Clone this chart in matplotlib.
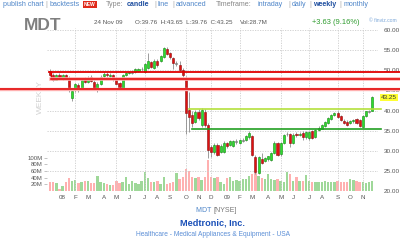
import numpy as np
import pandas as pd
import matplotlib
matplotlib.use('Agg')
import matplotlib.pyplot as plt
import matplotlib.transforms as mtransforms

plt.rcParams['font.family'] = ['Liberation Sans', 'DejaVu Sans']

ticker = 'MDT'
company = 'Medtronic, Inc.'
sector = 'Healthcare - Medical Appliances & Equipment - USA'
quote_date = '24 Nov 09'
week_start = '2007-12-10'

# weekly OHLC
opens = [49.7, 48.9, 47.7, 48.7, 48.2, 48.7, 48.1, 43.2, 45.0, 46.3,
         45.2, 47.8, 47.2, 48.3, 47.1, 45.5, 46.6, 48.5, 49.1, 48.6,
         48.8, 48.0, 46.8, 45.7, 48.8, 49.3, 49.5, 49.5, 49.7, 50.2,
         49.6, 50.5, 52.0, 50.5, 52.4, 52.3, 53.2, 55.4, 54.2, 53.1,
         51.7, 51.4, 50.0, 48.1, 40.2, 38.9, 37.2, 39.6, 36.4, 39.7,
         36.4, 31.0, 29.7, 31.5, 29.7, 29.8, 31.9, 31.4, 31.2, 32.3,
         32.0, 32.5, 32.6, 33.4, 33.7, 28.5, 24.4, 28.0, 27.5, 28.0,
         27.8, 29.5, 31.9, 29.1, 32.0, 34.1, 34.2, 32.0, 34.1, 33.9,
         34.4, 33.3, 33.1, 34.8, 33.4, 35.2, 35.5, 36.2, 37.0, 38.0,
         39.0, 39.4, 38.6, 37.5, 37.2, 36.9, 37.3, 37.9, 37.7, 36.0,
         38.6, 39.7, 39.76]
highs = [50.2, 49.3, 49.0, 49.2, 49.0, 49.1, 48.6, 45.0, 46.9, 46.8,
         47.9, 48.3, 48.6, 48.7, 47.5, 47.0, 48.8, 49.5, 49.6, 49.2,
         49.0, 48.4, 47.2, 49.0, 49.6, 49.8, 50.0, 50.5, 50.6, 50.7,
         51.8, 54.2, 52.4, 52.8, 52.9, 53.9, 55.8, 55.7, 54.6, 53.4,
         52.3, 52.4, 50.5, 48.6, 44.6, 40.0, 40.1, 40.4, 40.6, 40.3,
         36.8, 31.5, 31.9, 31.9, 31.6, 32.3, 32.2, 32.6, 32.7, 32.8,
         32.9, 33.1, 33.9, 34.8, 34.0, 28.9, 28.8, 29.5, 28.5, 28.8,
         29.8, 32.3, 32.2, 32.1, 34.2, 34.6, 34.5, 34.3, 34.6, 34.6,
         34.8, 35.0, 34.9, 35.1, 35.4, 36.1, 36.7, 37.5, 38.4, 39.2,
         39.6, 39.8, 38.9, 37.8, 37.6, 37.7, 37.9, 38.2, 38.0, 38.8,
         40.0, 40.2, 43.65]
lows = [48.6, 47.4, 47.5, 48.0, 47.6, 47.8, 44.6, 42.4, 44.7, 44.6,
        45.0, 46.8, 46.9, 47.0, 45.3, 44.5, 46.3, 48.0, 48.3, 48.2,
        47.4, 46.5, 45.6, 45.3, 48.5, 49.0, 49.1, 49.2, 49.5, 49.9,
        49.4, 50.3, 50.6, 50.3, 50.8, 52.0, 53.0, 53.7, 52.9, 50.4,
        51.0, 49.9, 48.4, 34.2, 34.6, 36.0, 36.8, 37.6, 35.9, 35.8,
        28.1, 28.5, 29.3, 28.8, 29.4, 29.5, 30.7, 31.2, 30.9, 31.8,
        31.7, 32.1, 32.3, 33.0, 28.6, 24.3, 24.1, 26.8, 27.2, 27.5,
        27.5, 29.3, 28.8, 28.8, 31.8, 33.6, 31.0, 31.8, 33.5, 33.6,
        32.6, 33.0, 32.6, 32.9, 33.2, 34.9, 35.3, 35.9, 36.7, 37.7,
        38.6, 38.2, 37.5, 36.7, 36.2, 36.6, 37.0, 36.7, 35.8, 35.8,
        38.4, 39.3, 39.76]
closes = [48.9, 47.7, 48.7, 48.4, 48.7, 48.1, 45.2, 44.8, 46.6, 45.1,
          47.6, 47.1, 48.1, 47.3, 45.7, 46.6, 48.4, 49.1, 48.8, 48.8,
          47.8, 46.7, 45.9, 48.8, 49.3, 49.5, 49.4, 50.3, 50.4, 50.3,
          51.5, 52.2, 50.9, 52.4, 51.2, 53.6, 55.5, 54.1, 53.2, 51.9,
          51.6, 50.1, 48.8, 39.4, 38.4, 36.9, 39.7, 38.1, 40.1, 36.4,
          30.2, 29.7, 31.4, 29.0, 31.2, 32.0, 31.2, 32.3, 32.4, 32.2,
          32.6, 32.4, 33.6, 34.3, 29.0, 24.6, 28.5, 27.0, 28.3, 28.6,
          29.5, 31.9, 29.0, 31.9, 34.0, 34.2, 32.0, 34.0, 33.8, 34.1,
          33.5, 34.7, 34.6, 33.1, 35.2, 35.7, 36.4, 37.2, 38.2, 38.9,
          39.3, 38.4, 37.7, 36.9, 36.4, 37.4, 37.6, 36.9, 36.1, 38.6,
          39.8, 39.62, 43.25]
# weekly volume, millions of shares
volumes = [28, 28, 23, 6, 15, 26, 38, 31, 33, 23,
           27, 30, 31, 25, 25, 45, 27, 24, 21, 18,
           18, 30, 23, 27, 43, 20, 31, 25, 21, 31,
           58, 39, 27, 27, 31, 21, 43, 21, 25, 28,
           55, 35, 43, 66, 61, 43, 40, 43, 33, 41,
           93, 43, 38, 43, 26, 21, 38, 43, 31, 33,
           31, 35, 36, 45, 51, 53, 45, 38, 36, 51,
           35, 33, 35, 30, 28, 57, 50, 31, 41, 31,
           31, 48, 31, 26, 28, 26, 26, 31, 28, 27,
           26, 31, 26, 26, 28, 36, 33, 31, 26, 26,
           25, 26, 28.7]

red_levels = [49.5, 47.8, 45.3]
green_levels = [40.3, 35.3]
grid_months = [(2008, 2), (2008, 5), (2008, 7), (2008, 10), (2008, 12),
               (2009, 2), (2009, 5), (2009, 7), (2009, 9), (2009, 11)]

W, H = 400, 240
fig = plt.figure(figsize=(4, 2.4), dpi=100)
fig.patch.set_facecolor('white')

def fx(x):
    return x / W

def fy(y):
    return 1 - y / H

rect = [fx(47), fy(191), (378 - 47) / W, (191 - 28) / H]
n = len(closes)
idx = np.arange(n)
dates = pd.date_range(week_start, periods=n, freq='7D')
o = np.array(opens); c = np.array(closes)
up = c > o + 0.15
down = c < o - 0.15

# volume axes (behind)
vax = fig.add_axes(rect)
vcol = np.where(down, '#ffb0b0', '#9fd899')
vax.bar(idx, volumes, width=0.75, color=vcol, linewidth=0)
vax.set_xlim(-0.95, 103.8)
vax.set_ylim(0, 489)
vax.set_yticks([20, 40, 60, 80, 100])
vax.set_yticklabels(['20M', '40M', '60M', '80M', '100M'])
vax.tick_params(axis='y', length=2, width=0.5, color='#aaaaaa', labelsize=4.3,
                labelcolor='#555555', pad=1)
vax.set_xticks([])
for s in vax.spines.values():
    s.set_visible(False)

# price axes
ax = fig.add_axes(rect)
ax.patch.set_alpha(0)
ax.set_xlim(-0.95, 103.8)
ax.set_ylim(20, 60.5)
for s in ax.spines.values():
    s.set_visible(False)

for lvl in range(20, 61, 5):
    ax.axhline(lvl, color='#cccccc', lw=0.6, ls=(0, (1.5, 1.5)), zorder=0)
for yr, mo in grid_months:
    pos = np.where((dates.year == yr) & (dates.month == mo))[0][0]
    ax.axvline(pos, color='#cccccc', lw=0.6, ls=(0, (1.5, 1.5)), zorder=0)

# candles
ax.vlines(idx, lows, highs, color='#8c8c8c', lw=0.6, zorder=2)
body_lo = np.minimum(o, c)
body_h = np.maximum(np.abs(c - o), 0.15)
face = np.where(up, '#2ddc2d', np.where(down, '#e01010', '#999999'))
edge = np.where(up, '#118a11', np.where(down, '#8a0c0c', '#777777'))
ax.bar(idx, body_h, bottom=body_lo, width=0.65, color=face, edgecolor=edge,
       linewidth=0.4, zorder=3)

# drawn trend lines
trans = mtransforms.blended_transform_factory(ax.transAxes, ax.transData)
def axfrac(xpx):
    return (xpx - 47) / (378 - 47)

ax.plot([axfrac(49), axfrac(400)], [red_levels[0]] * 2, color='#e00000', lw=1.3,
        transform=trans, clip_on=False, zorder=4)
ax.plot([axfrac(51), axfrac(51)], [red_levels[0], red_levels[1]], color='#e00000',
        lw=1.0, transform=trans, clip_on=False, zorder=4)
ax.plot([axfrac(51), axfrac(400)], [red_levels[1]] * 2, color='#ffb0b0', lw=2.6,
        transform=trans, clip_on=False, zorder=4)
ax.plot([axfrac(51), axfrac(400)], [red_levels[1]] * 2, color='#e00000', lw=1.1,
        transform=trans, clip_on=False, zorder=4)
ax.plot([axfrac(0), axfrac(400)], [red_levels[2]] * 2, color='#ffb0b0', lw=2.4,
        transform=trans, clip_on=False, zorder=4)
ax.plot([axfrac(0), axfrac(400)], [red_levels[2]] * 2, color='#e00000', lw=1.1,
        transform=trans, clip_on=False, zorder=4)
ax.plot([axfrac(189), axfrac(381)], [green_levels[0]] * 2, color='#b4e03c', lw=1.2,
        transform=trans, clip_on=False, zorder=4)
ax.plot([axfrac(192), axfrac(381)], [green_levels[1]] * 2, color='#22a022', lw=1.2,
        transform=trans, clip_on=False, zorder=4)

# price labels on right
ax.yaxis.tick_right()
ax.set_yticks(range(20, 61, 5))
ax.set_yticklabels(['%.2f' % v for v in range(20, 61, 5)])
ax.tick_params(axis='y', length=0, pad=4, labelsize=4.6, labelcolor='#555555')
ax.text(axfrac(381), closes[-1], '%.2f' % closes[-1], transform=trans, fontsize=4.6,
        color='#333333', va='center', ha='left', zorder=6,
        bbox=dict(boxstyle='square,pad=0.15', fc='#ffff33', ec='none'))

# month ticks
mpos, mlab = [], []
for i in range(1, n):
    if dates[i].month != dates[i - 1].month:
        mpos.append(i)
        mlab.append(dates[i].strftime('%y') if dates[i].month == 1
                    else 'JFMAMJJASOND'[dates[i].month - 1])
ax.set_xticks(mpos)
ax.set_xticklabels(mlab)
ax.tick_params(axis='x', length=0, pad=3, labelsize=4.5, labelcolor='#555555')

ax.text(fx(40), fy(97), 'WEEKLY', transform=fig.transFigure, rotation=90,
        fontsize=6, color='#d2d2d2', ha='center', va='center')

# header row
link = '#4f86c9'
dark = '#1f4fa0'
sep = '#aaaaaa'
hdr = [(3, 'publish chart', link, 'normal'), (45, '|', sep, 'normal'),
       (50, 'backtests', link, 'normal'),
       (106, 'Type:', '#888888', 'normal'), (127, 'candle', dark, 'bold'),
       (154, '|', sep, 'normal'), (158, 'line', link, 'normal'),
       (172, '|', sep, 'normal'), (176, 'advanced', link, 'normal'),
       (216, 'Timeframe:', '#888888', 'normal'), (258, 'intraday', link, 'normal'),
       (288, '|', sep, 'normal'), (292, 'daily', link, 'normal'),
       (309, '|', sep, 'normal'), (313, 'weekly', dark, 'bold'),
       (339, '|', sep, 'normal'), (344, 'monthly', link, 'normal')]
for x, t, col, wt in hdr:
    fig.text(fx(x), fy(5), t, fontsize=5.1, color=col, fontweight=wt,
             ha='left', va='center')
fig.text(fx(84), fy(4.5), 'NEW', fontsize=3.6, color='white', fontweight='bold',
         ha='left', va='center',
         bbox=dict(boxstyle='square,pad=0.2', fc='#e02a1a', ec='none'))

# quote row
fig.text(fx(24), fy(26), ticker, fontsize=12.5, fontweight='bold', color='#7f7f7f',
         ha='left', va='center')
fig.text(fx(94), fy(22.5), quote_date, fontsize=4.5, color='#555555',
         ha='left', va='center')
fig.text(fx(135), fy(22.5), 'O:%.2f  H:%.2f  L:%.2f  C:%.2f'
         % (opens[-1], highs[-1], lows[-1], closes[-1]),
         fontsize=4.5, color='#555555', ha='left', va='center')
fig.text(fx(240), fy(22.5), 'Vol:%.1fM' % volumes[-1], fontsize=4.5, color='#555555',
         ha='left', va='center')
chg = closes[-1] - closes[-2]
fig.text(fx(312), fy(22.5), '+%.2f (%.2f%%)' % (chg, chg / closes[-2] * 100),
         fontsize=5.4, color='#2b9a2b', ha='left', va='center')
fig.text(fx(397), fy(21), '\u00a9 finviz.com', fontsize=3.6, color='#7aa6d8',
         ha='right', va='center')

# footer
fig.text(fx(213), fy(211), ticker + ' ', fontsize=5, color=link, ha='right', va='center')
fig.text(fx(213), fy(211), '[NYSE]', fontsize=5, color='#777777', ha='left', va='center')
fig.text(fx(213), fy(223), company, fontsize=6.6, fontweight='bold', color='#1a50b8',
         ha='center', va='center')
fig.text(fx(213), fy(235), sector, fontsize=4.8, color='#5b8ed6', ha='center', va='center')

fig.savefig('out.png', dpi=100, facecolor='white')
